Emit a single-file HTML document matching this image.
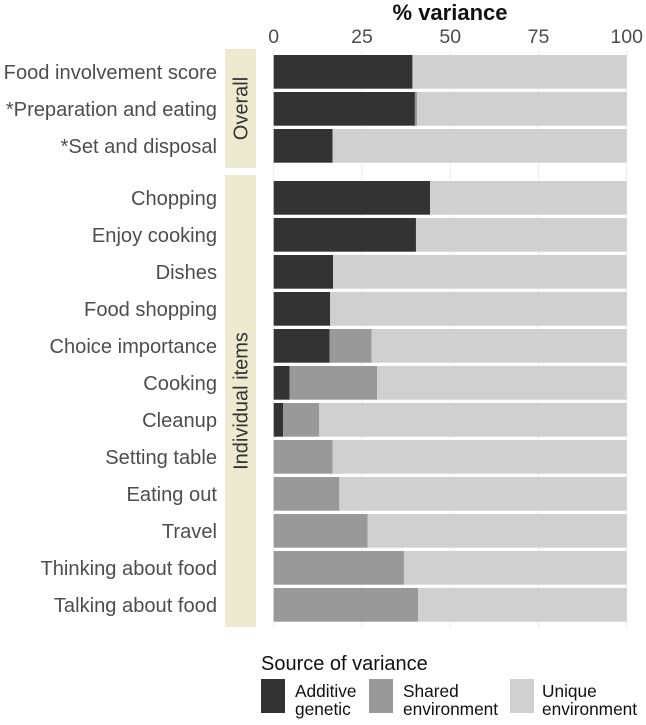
<!DOCTYPE html>
<html><head><meta charset="utf-8"><style>
body{margin:0;background:#fff;width:646px;height:720px;overflow:hidden;font-family:"Liberation Sans",sans-serif}
</style></head><body>
<svg id="chart" width="646" height="720" xmlns="http://www.w3.org/2000/svg" font-family="Liberation Sans, sans-serif"></svg>
<script>
const overallCats=["Food involvement score","*Preparation and eating","*Set and disposal"];
const overallA=[39.3,40.0,16.7];
const overallC=[0,0.6,0];
const itemCats=["Chopping","Enjoy cooking","Dishes","Food shopping","Choice importance","Cooking","Cleanup","Setting table","Eating out","Travel","Thinking about food","Talking about food"];
const itemA=[44.3,40.3,16.8,16.0,15.8,4.5,2.7,0,0,0,0,0];
const itemC=[0,0,0,0,11.9,24.8,10.2,16.7,18.6,26.6,36.9,40.9];
const ticks=[0,25,50,75,100];
const legendLabels=[["Additive","genetic"],["Shared","environment"],["Unique","environment"]];
const colors=["#333333","#999999","#d0d0d0"];

const svg=document.getElementById('chart');
const NS="http://www.w3.org/2000/svg";
const x0=273.7,x1=626.7;
const xs=v=>x0+(x1-x0)*v/100;
function el(t,a,p){const e=document.createElementNS(NS,t);for(const k in a)e.setAttribute(k,a[k]);(p||svg).appendChild(e);return e;}

ticks.forEach(t=>{
  const g=el('line',{x1:xs(t),x2:xs(t),y1:50,y2:628,stroke:'#ebebeb','stroke-width':1});
  
  
  const tx=el('text',{x:xs(t),y:43,'text-anchor':'middle','font-size':19.5,fill:'#4d4d4d'});
  tx.textContent=t;
  
  
});
const title=el('text',{x:450,y:20,'text-anchor':'middle','font-size':22,'font-weight':'bold',fill:'#111'});
title.textContent='% variance';



function panel(cats,A,C,top,stripTop,stripBot,label,name){
  const s=el('rect',{x:225,y:stripTop,width:31,height:stripBot-stripTop,fill:'#eeead0'});
  
  
  const cy=(stripTop+stripBot)/2;
  const st=el('text',{x:240.5,y:cy,'text-anchor':'middle','font-size':20,fill:'#333',transform:`rotate(-90 240.5 ${cy}) translate(0 7)`});
  st.textContent=label;
  
  
  cats.forEach((c,i)=>{
    const y=top+i*37,h=33.7;
    const a=A[i],b=C[i];
    const segs=[[0,a,0],[a,a+b,1],[a+b,100,2]];
    segs.forEach(([s0,s1,k])=>{
      if(s1-s0<=0)return;
      const r=el('rect',{x:xs(s0),y:y,width:xs(s1)-xs(s0),height:h,fill:colors[k]});
      
      
    });
    const t=el('text',{x:217,y:y+h/2+7,'text-anchor':'end','font-size':20.1,fill:'#4d4d4d'});
    t.textContent=c;
    
    
  });
}
panel(overallCats,overallA,overallC,55,49,168,'Overall','overall-panel');
panel(itemCats,itemA,itemC,181,175,627,'Individual items','items-panel');

const lt=el('text',{x:261,y:670,'font-size':20,fill:'#111'});
lt.textContent='Source of variance';


const lx=[261,369,510];
const tx=[295,403,542];
legendLabels.forEach((l,i)=>{
  const r=el('rect',{x:lx[i],y:679,width:24,height:34,fill:colors[i]});
  
  
  l.forEach((w,j)=>{
    const t=el('text',{x:tx[i],y:697+j*18,'font-size':17.3,fill:'#111'});
    t.textContent=w;
    
    
  });
});
</script>
</body></html>
